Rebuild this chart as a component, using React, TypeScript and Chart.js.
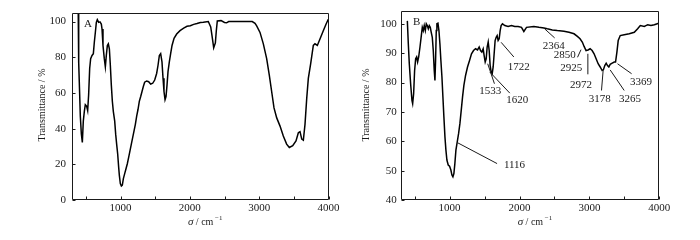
import React, { useEffect, useRef } from 'react';
import { Chart, registerables } from 'chart.js';
Chart.register(...registerables);

// ---------- Panel A data ----------
const waveA = [390,393,400,410,420,435,449,463,478,492,512,526,540,555,569,589,608,622,637,651,665,685,704,723,733,747,766,781,795,810,824,839,853,867,882,896,916,930,944,959,973,983,997,1012,1026,1041,1060,1079,1098,1118,1137,1156,1175,1195,1214,1233,1252,1271,1291,1310,1329,1348,1377,1406,1435,1464,1493,1521,1541,1560,1579,1598,1613,1627,1642,1656,1671,1685,1704,1723,1743,1772,1810,1858,1911,1959,2007,2055,2103,2152,2194,2266,2301,2320,2344,2368,2382,2396,2450,2500,2530,2560,2700,2900,2940,2964,3012,3060,3108,3146,3180,3214,3253,3301,3348,3396,3435,3484,3531,3565,3589,3614,3637,3661,3686,3709,3743,3781,3805,3839,3877,3925,3964,3997];
const transA = [104.5,90,77,60,47,37,32.3,44.2,49.7,53.4,52.5,50.1,59,73.7,79.2,81,82,88.4,94,99.5,101,99.5,99.8,98.6,95.8,86.6,79.2,74.6,81,86.6,87.5,84.7,75.5,64.5,55.3,49.7,44.2,36.9,31.3,25.8,18.4,13.8,9.2,7.8,8.3,12,14.8,17.5,20.3,24,27.7,31.3,35,38.7,42.4,47,50.7,55.3,58,60.8,63.6,66,66.7,66.3,64.9,65.4,67.2,70.9,75.5,81,82,77.4,68.2,60.8,56.2,58,64.5,71.9,77.4,82,86.6,90.6,93,94.9,96.3,97.3,97.6,98.4,98.9,99.5,99.6,100,97,92,85.3,88,95,100.3,100.5,99.5,99.3,100,100,100,99,97.6,93.9,87.5,79.2,70,60.8,51.6,46,41.4,35.9,31.3,29.4,30.4,33.1,37.7,38.3,34.1,33.5,42.4,57,68.1,76.4,86.6,87.5,86.6,90.2,94.8,98.5,101.3];

// ---------- Panel B data ----------
const waveB = [395,409,423,442,461,471,485,499,514,528,542,557,576,595,609,623,637,652,666,680,695,709,723,737,752,766,780,790,799,809,818,833,847,861,875,890,904,918,933,947,961,980,999,1018,1033,1047,1061,1075,1090,1109,1128,1147,1166,1185,1204,1228,1256,1285,1313,1342,1371,1399,1423,1442,1461,1480,1494,1509,1523,1537,1552,1566,1580,1594,1609,1623,1637,1651,1666,1680,1694,1709,1723,1737,1756,1790,1837,1885,1932,1980,2028,2062,2100,2205,2277,2349,2397,2469,2540,2636,2708,2780,2828,2866,2900,2924,2952,2981,3010,3039,3067,3096,3125,3154,3182,3201,3220,3240,3259,3278,3297,3326,3355,3374,3393,3412,3441,3498,3570,3642,3690,3728,3786,3834,3881,3929,3992];
const transB = [101,93.2,86.4,79.6,73.9,72.8,76.2,84.1,88.1,88.7,87,88.7,92.1,96,98.8,97.7,99.4,97.7,100,99.4,98.3,99.4,98.8,97.1,95.4,90.9,84.1,80.7,87.5,97.7,100,100.2,97.7,93.2,87.5,81.9,75.1,68.3,61.5,57,53.6,51.9,51.5,50.2,48.5,47.9,49,52.4,57,59.8,62.6,66,70.5,75.1,79,82.4,85.3,87.5,89.8,90.9,91.5,91.1,92.1,90.9,90.4,91.5,89.2,87,88.1,92.1,93.8,90.9,85.8,83.6,83,85.3,89.8,94.3,95.4,96,94.3,94.9,97.7,99.4,100,99.4,99.1,99.4,99.1,99.1,98.8,97.4,98.8,99.1,98.8,98.6,98.3,97.9,97.7,97.5,97.1,96.6,95.7,94.9,93.7,92.3,90.9,91.1,91.5,90.9,89.8,88.1,86.4,85.3,84.1,84.4,85.8,86.6,85.8,85.3,86.2,86.6,87,87,90.3,94.3,96,96.3,96.6,97.1,98.3,99.4,99.1,99.7,99.4,99.7,100.2];

// ---------- Ticks ----------
const xTickValues = [500,1000,1500,2000,2500,3000,3500,4000];
const yTicksA = [0,20,40,60,80,100];
const yTicksB = [40,50,60,70,80,90,100];

// ---------- Annotations (panel B) ----------
const annLabels = ['1116','1533','1620','1722','2364','2850','2925','2972','3178','3265','3369'];
const annTextX = [1928,1583,1967,1990,2489,2647,2740,2880,3149,3580,3738];
const annTextY = [51.9,77.0,73.9,85.4,92.3,89.3,84.9,79.2,74.4,74.4,80.2];
const annFromX = [1114,1545,1574,1737,2359,2830,null,2978,3197,3297,3402];
const annFromY = [59.5,86.4,83.6,93.7,98.3,88.6,null,89.8,84.3,84.3,86.4];
const annToX = [1679,1641,1861,1919,2503,2880,null,2978,3173,3498,3604];
const annToY = [52.4,79.6,76.4,88.7,95.2,91.2,null,82.8,77.3,77.3,83.0];

const FONT = '"Liberation Serif", "DejaVu Serif", serif';

type Spec = {
  wave: number[]; trans: number[]; yMin: number; yMax: number; yTicks: number[];
  yWidth: number; padRight: number; yPad: number; letter: string;
  yTitleX: number; yTitleY: number; xTitleCenterOffset: number; ann: boolean;
};

function makeChart(canvas: HTMLCanvasElement, s: Spec) {
  const decor = {
    id: 'decor',
    afterDraw(chart: any) {
      const { ctx, chartArea: a, scales } = chart;
      const xs = scales.x, ys = scales.y;
      ctx.save();
      ctx.strokeStyle = '#1a1a1a';
      ctx.lineWidth = 1;
      const L = Math.round(a.left) + 0.5, R = Math.round(a.right) - 0.5;
      const T = Math.round(a.top) + 0.5, B = Math.round(a.bottom) - 0.5;
      ctx.beginPath();
      ctx.moveTo(L, T); ctx.lineTo(R, T); ctx.lineTo(R, B); ctx.lineTo(L, B); ctx.closePath();
      ctx.stroke();
      // inward ticks
      ctx.beginPath();
      for (const v of xTickValues) {
        const px = Math.round(xs.getPixelForValue(v)) + 0.5;
        ctx.moveTo(px, B); ctx.lineTo(px, B - 3);
      }
      for (const v of s.yTicks) {
        const py = Math.round(ys.getPixelForValue(v)) + 0.5;
        ctx.moveTo(L, py); ctx.lineTo(L + 3, py);
      }
      ctx.stroke();
      ctx.fillStyle = '#1a1a1a';
      // panel letter
      ctx.font = `11px ${FONT}`;
      ctx.textAlign = 'center';
      ctx.textBaseline = 'middle';
      ctx.fillText(s.letter, a.left + 16, a.top + 12);
      // annotations
      if (s.ann) {
        ctx.lineWidth = 1;
        for (let i = 0; i < annLabels.length; i++) {
          const fx = annFromX[i], fy = annFromY[i], tx = annToX[i], ty = annToY[i];
          if (fx !== null && fy !== null && tx !== null && ty !== null) {
            ctx.beginPath();
            ctx.moveTo(xs.getPixelForValue(fx), ys.getPixelForValue(fy));
            ctx.lineTo(xs.getPixelForValue(tx), ys.getPixelForValue(ty));
            ctx.stroke();
          }
          ctx.fillText(annLabels[i], xs.getPixelForValue(annTextX[i]), ys.getPixelForValue(annTextY[i]));
        }
      }
      // y title
      ctx.save();
      ctx.translate(s.yTitleX, s.yTitleY);
      ctx.rotate(-Math.PI / 2);
      ctx.font = `10px ${FONT}`;
      ctx.fillText('Transmittance / %', 0, 0);
      ctx.restore();
      // x title: σ / cm−1
      const cx = (a.left + a.right) / 2 + s.xTitleCenterOffset;
      const cy = 222;
      const f1 = `italic 11px ${FONT}`, f2 = `10px ${FONT}`, f3 = `7px ${FONT}`;
      ctx.font = f1; const w1 = ctx.measureText('σ').width;
      ctx.font = f2; const w2 = ctx.measureText(' / cm').width;
      ctx.font = f3; const w3 = ctx.measureText(' −1').width;
      let x0 = cx - (w1 + w2 + w3) / 2;
      ctx.textAlign = 'left';
      ctx.font = f1; ctx.fillText('σ', x0, cy); x0 += w1;
      ctx.font = f2; ctx.fillText(' / cm', x0, cy); x0 += w2;
      ctx.font = f3; ctx.fillText(' −1', x0, cy - 4);
      ctx.restore();
    },
  };

  return new Chart(canvas, {
    type: 'line',
    data: {
      datasets: [{
        data: s.wave.map((w, i) => ({ x: w, y: s.trans[i] })),
        borderColor: '#000',
        borderWidth: 1.5,
        pointRadius: 0,
        tension: 0,
        fill: false,
      }],
    },
    options: {
      responsive: false,
      animation: false,
      devicePixelRatio: 1,
      layout: { padding: { left: 0, top: 10, right: s.padRight, bottom: 0 } },
      plugins: { legend: { display: false }, tooltip: { enabled: false } },
      scales: {
        x: {
          type: 'linear', min: 300, max: 4000,
          afterBuildTicks: (sc: any) => { sc.ticks = xTickValues.map((v) => ({ value: v })); },
          afterFit: (sc: any) => { sc.height = 40; },
          grid: { display: false, drawTicks: false, tickLength: 0 },
          border: { display: false },
          ticks: {
            autoSkip: false, maxRotation: 0, padding: 2, color: '#1a1a1a',
            font: { family: FONT, size: 11 },
            callback: (v: any) => (Number(v) % 1000 === 0 ? String(v) : ''),
          },
        },
        y: {
          type: 'linear', min: s.yMin, max: s.yMax,
          afterBuildTicks: (sc: any) => { sc.ticks = s.yTicks.map((v) => ({ value: v })); },
          afterFit: (sc: any) => { sc.width = s.yWidth; },
          grid: { display: false, drawTicks: false, tickLength: 0 },
          border: { display: false },
          ticks: {
            padding: s.yPad, color: '#1a1a1a',
            font: { family: FONT, size: 11 },
            callback: (v: any) => String(v),
          },
        },
      },
    },
    plugins: [decor],
  } as any);
}

export default function App() {
  const refA = useRef<HTMLCanvasElement>(null);
  const refB = useRef<HTMLCanvasElement>(null);
  useEffect(() => {
    const a = makeChart(refA.current!, {
      wave: waveA, trans: transA, yMin: 0, yMax: 105, yTicks: yTicksA,
      yWidth: 72, padRight: 21.5, yPad: 6, letter: 'A',
      yTitleX: 42, yTitleY: 105, xTitleCenterOffset: 5, ann: false,
    });
    const b = makeChart(refB.current!, {
      wave: waveB, trans: transB, yMin: 40, yMax: 104.5, yTicks: yTicksB,
      yWidth: 50.7, padRight: 40.7, yPad: 4, letter: 'B',
      yTitleX: 16.7, yTitleY: 105, xTitleCenterOffset: 5, ann: true,
    });
    return () => { a.destroy(); b.destroy(); };
  }, []);
  return (
    <div style={{ position: 'fixed', left: 0, top: 0, width: 700, height: 240, background: '#fff', display: 'flex' }}>
      <canvas ref={refA} width={350} height={240} style={{ display: 'block', width: 350, height: 240 }} />
      <canvas ref={refB} width={350} height={240} style={{ display: 'block', width: 350, height: 240 }} />
    </div>
  );
}
